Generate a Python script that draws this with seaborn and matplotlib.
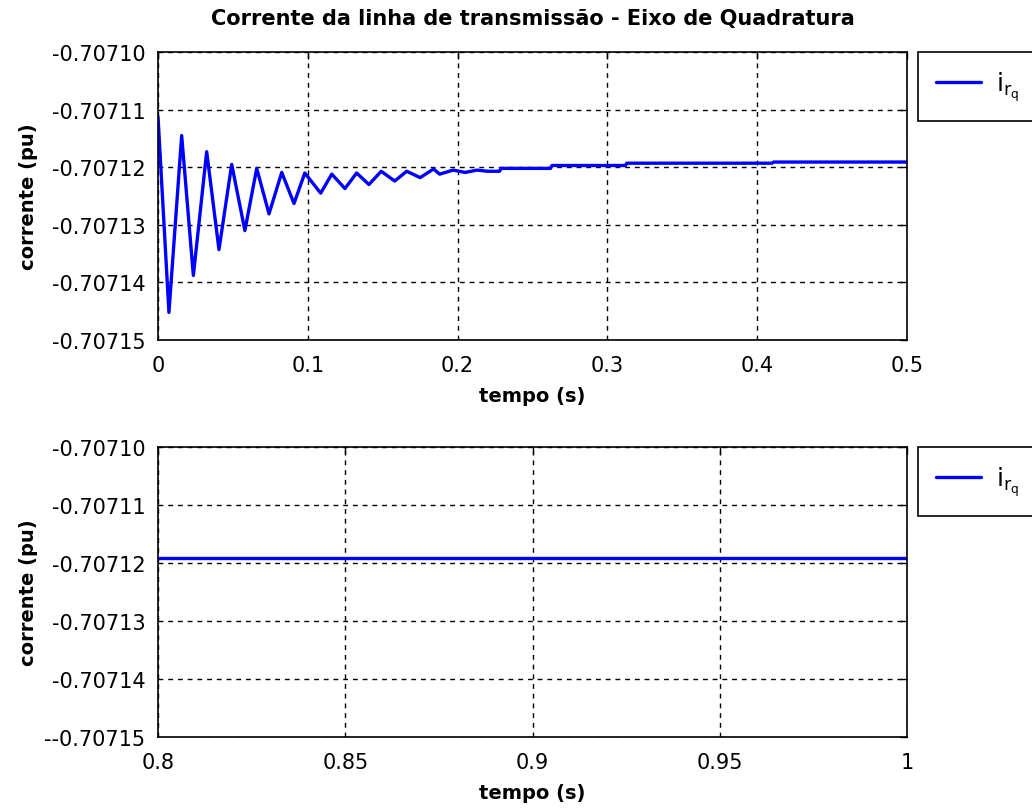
import numpy as np
import pandas as pd
import seaborn as sns
import matplotlib
matplotlib.use('Agg')
import matplotlib.pyplot as plt
from matplotlib.ticker import FixedLocator, FixedFormatter

# Data (quadrature-axis line current, pu)
t_transient = [0.0, 0.0073, 0.0158, 0.0236, 0.0325, 0.0407, 0.0492, 0.058,
               0.0659, 0.0741, 0.0826, 0.0908, 0.098, 0.1086, 0.116, 0.1248,
               0.1326, 0.1408, 0.149, 0.158, 0.166, 0.175, 0.184, 0.188,
               0.197, 0.205, 0.213, 0.22, 0.228, 0.229, 0.262, 0.263, 0.312,
               0.313, 0.41, 0.411, 0.5]
i_transient = [-0.7071112, -0.7071452, -0.7071145, -0.7071388, -0.7071173,
               -0.7071343, -0.7071195, -0.7071310, -0.7071202, -0.7071281,
               -0.7071209, -0.7071263, -0.7071210, -0.7071245, -0.7071212,
               -0.7071237, -0.7071210, -0.7071230, -0.7071207, -0.7071224,
               -0.7071207, -0.7071218, -0.7071203, -0.7071212, -0.7071205,
               -0.7071209, -0.7071205, -0.7071207, -0.7071207, -0.7071202,
               -0.7071202, -0.7071197, -0.7071197, -0.7071193, -0.7071193,
               -0.7071191, -0.7071191]

t_steady = [0.8, 0.9, 1.0]
i_steady = [-0.7071191, -0.7071191, -0.7071191]

y_ticks = [-0.70715, -0.70714, -0.70713, -0.70712, -0.70711, -0.70710]
y_labels_top = ['-0.70715', '-0.70714', '-0.70713', '-0.70712', '-0.70711', '-0.70710']
y_labels_bottom = ['--0.70715', '-0.70714', '-0.70713', '-0.70712', '-0.70711', '-0.70710']
x_ticks_top = [0, 0.1, 0.2, 0.3, 0.4, 0.5]
x_labels_top = ['0', '0.1', '0.2', '0.3', '0.4', '0.5']
x_ticks_bottom = [0.8, 0.85, 0.9, 0.95, 1.0]
x_labels_bottom = ['0.8', '0.85', '0.9', '0.95', '1']

title = 'Corrente da linha de transmissão - Eixo de Quadratura'
legend_label = r'$\mathregular{i_{r_q}}$'

sns.set_style('white')
plt.rcParams['font.family'] = ['DejaVu Sans']
plt.rcParams['mathtext.fontset'] = 'dejavusans'
plt.rcParams['text.color'] = 'black'
plt.rcParams['axes.labelcolor'] = 'black'

fig = plt.figure(figsize=(10.32, 8.12), dpi=100)
ax1 = fig.add_axes([0.1531, 0.5800, 0.7258, 0.3547])
ax2 = fig.add_axes([0.1531, 0.0911, 0.7258, 0.3572])

panels = [
    (ax1, t_transient, i_transient, x_ticks_top, x_labels_top, y_labels_top, (0, 0.5), 0.9347),
    (ax2, t_steady, i_steady, x_ticks_bottom, x_labels_bottom, y_labels_bottom, (0.8, 1.0), 0.4483),
]

for ax, t, cur, xt, xl, yl, xlim, top in panels:
    df = pd.DataFrame({'t': t, 'i': cur})
    sns.lineplot(data=df, x='t', y='i', ax=ax, color='#0000ff', lw=2.4,
                 label=legend_label, sort=False)
    ax.set_xlim(*xlim)
    ax.set_ylim(-0.70715, -0.70710)
    ax.xaxis.set_major_locator(FixedLocator(xt))
    ax.xaxis.set_major_formatter(FixedFormatter(xl))
    ax.yaxis.set_major_locator(FixedLocator(y_ticks))
    ax.yaxis.set_major_formatter(FixedFormatter(yl))
    ax.grid(True, color='black', linestyle=(0, (3.5, 3.5)), lw=1.0)
    ax.tick_params(direction='in', length=5, width=1, top=True, right=True,
                   labelsize=15, colors='black')
    ax.tick_params(axis='x', pad=11)
    ax.tick_params(axis='y', pad=9)
    for s in ax.spines.values():
        s.set_color('black')
        s.set_linewidth(1.2)
        s.set_visible(True)
    ax.set_xlabel('tempo (s)', fontsize=14, fontweight='bold', labelpad=8)
    ax.set_ylabel('corrente (pu)', fontsize=14, fontweight='bold')
    ax.yaxis.set_label_coords(-0.16, 0.5)
    # legend box sits outside the axes and runs past the right edge of the figure
    leg = ax.legend(loc='upper left', bbox_to_anchor=(918 / 1032, top, 0.125, 0),
                    bbox_transform=fig.transFigure, borderaxespad=0, mode='expand',
                    fancybox=False, edgecolor='black', framealpha=1,
                    fontsize=18, handlelength=1.8, borderpad=0.7,
                    handletextpad=0.6)
    leg.get_frame().set_linewidth(1.2)

ax1.set_title(title, fontsize=15, fontweight='bold', pad=20)

fig.savefig('out.png', dpi=100, facecolor='white')
